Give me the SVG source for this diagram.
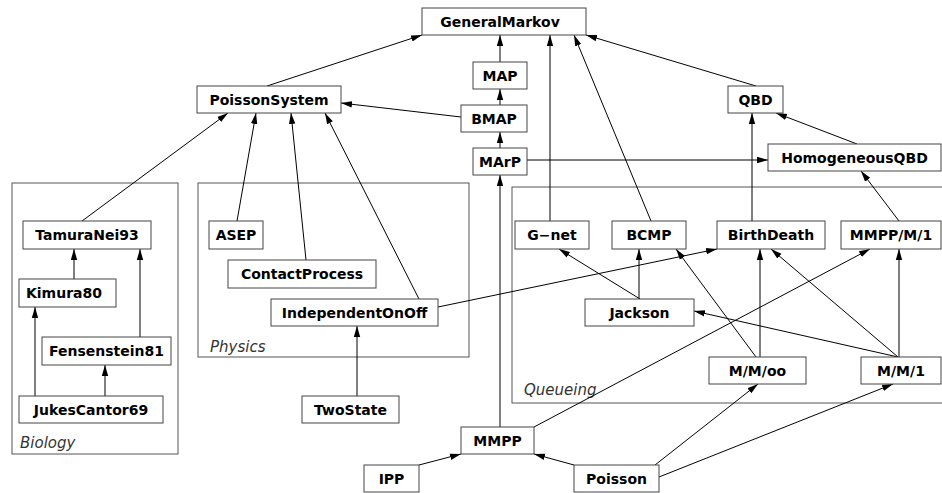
<svg xmlns="http://www.w3.org/2000/svg" width="942" height="493" viewBox="0 0 942 493">
<defs>
<marker id="ah" markerWidth="11" markerHeight="8" refX="11" refY="4" orient="auto" markerUnits="userSpaceOnUse">
<path d="M0,0.8 L11,4 L0,7.2 Z" fill="#000"/>
</marker>
<style>
.cl{fill:none;stroke:#555;stroke-width:1}
.cll{font-family:"DejaVu Sans",sans-serif;font-style:italic;font-size:15px;fill:#333}
.n rect{fill:#fff;stroke:#444;stroke-width:1}
.n text{font-family:"DejaVu Sans",sans-serif;font-weight:bold;font-size:14px;fill:#000;text-anchor:middle;dominant-baseline:central}
.e line{stroke:#000;stroke-width:1;marker-end:url(#ah)}
</style>
</defs>
<rect width="942" height="493" fill="#fff"/>
<g id="clusters">
<rect class="cl" x="12" y="183" width="166" height="271"/>
<text class="cll" x="20" y="448">Biology</text>
<rect class="cl" x="198" y="183" width="271" height="174"/>
<text class="cll" x="210" y="352">Physics</text>
<rect class="cl" x="512" y="187" width="440" height="216"/>
<text class="cll" x="524" y="395">Queueing</text>
</g>
<g id="edges" class="e">
<line x1="267" y1="86" x2="422" y2="35"/>
<line x1="500" y1="62" x2="500" y2="35"/>
<line x1="500" y1="105" x2="500" y2="89"/>
<line x1="500" y1="148" x2="500" y2="132"/>
<line x1="461" y1="117" x2="341" y2="103"/>
<line x1="756" y1="86" x2="586" y2="35"/>
<line x1="550" y1="221" x2="550" y2="35"/>
<line x1="651" y1="221" x2="574" y2="35"/>
<line x1="527" y1="160" x2="768" y2="160"/>
<line x1="857" y1="144" x2="776" y2="113"/>
<line x1="752" y1="221" x2="752" y2="113"/>
<line x1="899" y1="221" x2="861" y2="171"/>
<line x1="82" y1="221" x2="228" y2="113"/>
<line x1="237" y1="221" x2="256" y2="113"/>
<line x1="306" y1="260" x2="291" y2="113"/>
<line x1="419" y1="299" x2="325" y2="113"/>
<line x1="438" y1="307" x2="717" y2="249"/>
<line x1="74" y1="279" x2="74" y2="249"/>
<line x1="140" y1="337" x2="140" y2="249"/>
<line x1="35" y1="396" x2="35" y2="307"/>
<line x1="105" y1="396" x2="105" y2="365"/>
<line x1="357" y1="396" x2="357" y2="326"/>
<line x1="500" y1="427" x2="500" y2="175"/>
<line x1="534" y1="427" x2="870" y2="249"/>
<line x1="419" y1="465" x2="461" y2="454"/>
<line x1="574" y1="465" x2="534" y2="454"/>
<line x1="655" y1="465" x2="758" y2="384"/>
<line x1="659" y1="477" x2="893" y2="384"/>
<line x1="640" y1="299" x2="559" y2="249"/>
<line x1="639" y1="299" x2="639" y2="249"/>
<line x1="756" y1="357" x2="676" y2="249"/>
<line x1="760" y1="357" x2="760" y2="249"/>
<line x1="898" y1="357" x2="694" y2="311"/>
<line x1="898" y1="357" x2="771" y2="249"/>
<line x1="899" y1="357" x2="899" y2="249"/>
</g>
<g id="GeneralMarkov" class="n"><rect x="422" y="8" width="164" height="27"/><text x="500" y="21.5">GeneralMarkov</text></g>
<g id="MAP" class="n"><rect x="473" y="62" width="54" height="27"/><text x="500" y="75.5">MAP</text></g>
<g id="BMAP" class="n"><rect x="461" y="105" width="66" height="27"/><text x="494" y="118.5">BMAP</text></g>
<g id="MArP" class="n"><rect x="473" y="148" width="54" height="27"/><text x="500" y="161.5">MArP</text></g>
<g id="PoissonSystem" class="n"><rect x="197" y="86" width="144" height="27"/><text x="269" y="99.5">PoissonSystem</text></g>
<g id="QBD" class="n"><rect x="728" y="86" width="55" height="27"/><text x="755.5" y="99.5">QBD</text></g>
<g id="HomogeneousQBD" class="n"><rect x="768" y="144" width="173" height="27"/><text x="854.5" y="157.5">HomogeneousQBD</text></g>
<g id="TamuraNei93" class="n"><rect x="23" y="221" width="128" height="28"/><text x="87" y="235">TamuraNei93</text></g>
<g id="Kimura80" class="n"><rect x="19" y="279" width="97" height="28"/><text x="64" y="293">Kimura80</text></g>
<g id="Fensenstein81" class="n"><rect x="42" y="337" width="129" height="28"/><text x="106.5" y="351">Fensenstein81</text></g>
<g id="JukesCantor69" class="n"><rect x="19" y="396" width="144" height="27"/><text x="91" y="409.5">JukesCantor69</text></g>
<g id="ASEP" class="n"><rect x="209" y="221" width="54" height="28"/><text x="236" y="235">ASEP</text></g>
<g id="ContactProcess" class="n"><rect x="228" y="260" width="148" height="28"/><text x="302" y="274">ContactProcess</text></g>
<g id="IndependentOnOff" class="n"><rect x="271" y="299" width="167" height="27"/><text x="354.5" y="312.5">IndependentOnOff</text></g>
<g id="TwoState" class="n"><rect x="302" y="396" width="97" height="27"/><text x="350.5" y="409.5">TwoState</text></g>
<g id="MMPP" class="n"><rect x="461" y="427" width="73" height="27"/><text x="497.5" y="440.5">MMPP</text></g>
<g id="IPP" class="n"><rect x="364" y="465" width="55" height="27"/><text x="391.5" y="478.5">IPP</text></g>
<g id="Poisson" class="n"><rect x="574" y="465" width="85" height="27"/><text x="616.5" y="478.5">Poisson</text></g>
<g id="G-net" class="n"><rect x="515" y="221" width="74" height="28"/><text x="552" y="235">G−net</text></g>
<g id="BCMP" class="n"><rect x="612" y="221" width="74" height="28"/><text x="649" y="235">BCMP</text></g>
<g id="BirthDeath" class="n"><rect x="717" y="221" width="108" height="28"/><text x="771" y="235">BirthDeath</text></g>
<g id="MMPP_M_1" class="n"><rect x="841" y="221" width="100" height="28"/><text x="891" y="235">MMPP/M/1</text></g>
<g id="Jackson" class="n"><rect x="585" y="299" width="109" height="27"/><text x="639.5" y="312.5">Jackson</text></g>
<g id="M_M_oo" class="n"><rect x="709" y="357" width="97" height="27"/><text x="757.5" y="370.5">M/M/oo</text></g>
<g id="M_M_1" class="n"><rect x="861" y="357" width="80" height="27"/><text x="901" y="370.5">M/M/1</text></g>
</svg>
